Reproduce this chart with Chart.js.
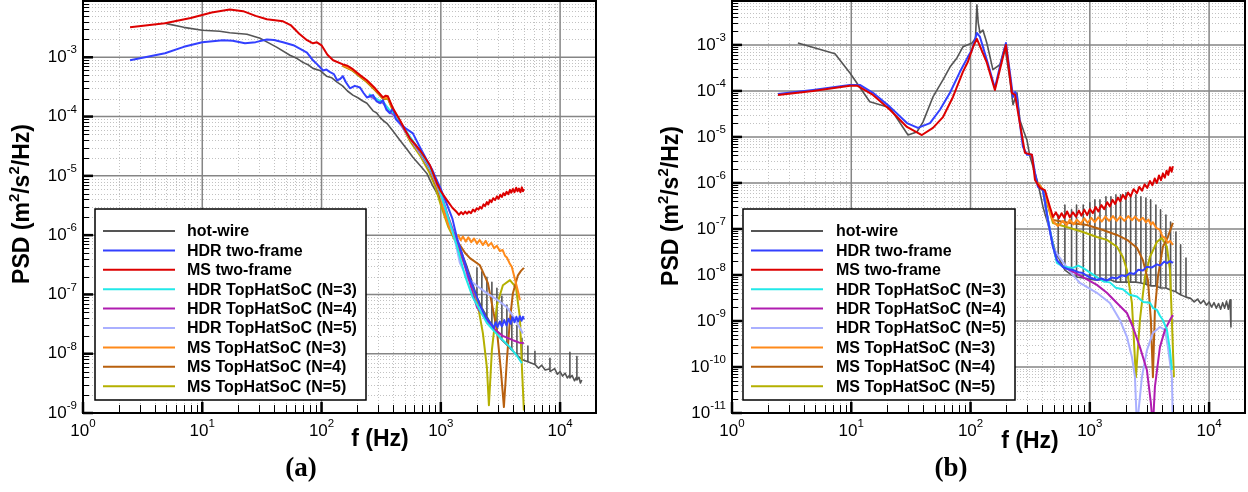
<!DOCTYPE html>
<html>
<head>
<meta charset="utf-8">
<script src="https://cdn.jsdelivr.net/npm/chart.js@4.4.1/dist/chart.umd.min.js"></script>
<style>
  html, body { margin: 0; padding: 0; background: #fff; }
  #wrap { position: relative; width: 1248px; height: 492px; }
  canvas { position: absolute; top: 0; }
  #psdA { left: 0; }
  #psdB { left: 624px; }
</style>
</head>
<body>
<div id="wrap">
  <canvas id="psdA" width="624" height="492"></canvas>
  <canvas id="psdB" width="624" height="492"></canvas>
</div>
<script>
// Spectra as [f (Hz), PSD (m^2/s^2/Hz)] pairs

// ---------- panel (a) ----------
const hotWireA = [
  [5.0,3.7e-3],[7,3.2e-3],[10,2.85e-3],[14,2.75e-3],[17,2.6e-3],[23.7,2.44e-3],[30.5,2.09e-3],[36,1.75e-3],
  [42.3,1.47e-3],[54.3,1.08e-3],[62,9.6e-4],[69.8,8.2e-4],[77,7.5e-4],[84.7,6.5e-4],[97,6.0e-4],[110,4.8e-4],
  [122,4.5e-4],[135,3.8e-4],[150,3.3e-4],[165,2.7e-4],[183,2.3e-4],[200,2.1e-4],[220,1.85e-4],[240,1.68e-4],
  [270,1.25e-4],[290,1.15e-4],[309,9.7e-5],[330,8.5e-5],[353,7.7e-5],[400,5.6e-5],[454,4.0e-5],[520,2.8e-5],
  [583,2.06e-5],[670,1.5e-5],[764,1.1e-5],[850,7.0e-6],[927,5.1e-6],[1000,3.8e-6],[1100,2.3e-6],[1200,1.4e-6],
  [1350,8.5e-7],[1500,5e-7],[1650,3e-7],[1800,1.8e-7],
  [2009,9e-8],[2009,2.8e-7],[2009,9e-8],[2208,6e-8],[2208,2.4e-7],[2208,6e-8],
  [2434,4.2e-8],[2434,1.95e-7],[2434,4.2e-8],[2680,3e-8],[2680,1.6e-7],[2680,3e-8],
  [2953,2.2e-8],[2953,1.27e-7],[2953,2.2e-8],[3250,1.7e-8],[3250,9.3e-8],[3250,1.7e-8],
  [3580,1.4e-8],[3580,6.6e-8],[3580,1.4e-8],[3940,1.15e-8],[3940,4.5e-8],[3940,1.15e-8],
  [4345,9.5e-9],[4345,3.0e-8],[4345,9.5e-9],[4786,8e-9],[4786,1.82e-8],[4786,8e-9],
  [5370,7.3e-9],[5370,1.35e-8],[5370,7.3e-9],[6150,6.6e-9],[6150,1.1e-8],[6150,6.6e-9],
  [6600,5.7e-9],[7000,6.4e-9],[7500,5.3e-9],[8220,5.6e-9],[8220,8.4e-9],[8220,5.0e-9],[9000,5.6e-9],
  [9500,4.5e-9],[10000,5.0e-9],[10500,4.2e-9],[11000,4.7e-9],[11500,3.9e-9],[12080,4.4e-9],[12080,1.06e-8],
  [12080,3.9e-9],[12600,4.3e-9],[13200,3.5e-9],[13830,4.1e-9],[13830,9e-9],[13830,3.6e-9],[14400,4.0e-9],
  [14800,3.2e-9],[15200,3.6e-9]
];
const hdrTwoFrameA = [
  [2.48,8.9e-4],[4.87,1.17e-3],[7,1.5e-3],[10,1.79e-3],[14.9,1.94e-3],[18,1.9e-3],[22.8,1.72e-3],[28,1.8e-3],
  [34.8,2.0e-3],[40,1.95e-3],[47.5,1.79e-3],[58,1.6e-3],[69.8,1.31e-3],[75.5,1.2e-3],[84.7,8.9e-4],[92,7.6e-4],
  [103,6.0e-4],[110,6.2e-4],[118,5.6e-4],[127,5.2e-4],[135,4.1e-4],[143,4.3e-4],[151,4.8e-4],[160,3.8e-4],
  [173,3.0e-4],[190,3.3e-4],[210,3.1e-4],[225,2.5e-4],[240,2.1e-4],[255,2.2e-4],[270,2.3e-4],[290,1.8e-4],
  [309,1.68e-4],[327,1.88e-4],[350,1.3e-4],[374,1.14e-4],[397,1.38e-4],[420,9e-5],[454,7.7e-5],[510,6.3e-5],
  [583,5.2e-5],[670,3.0e-5],[764,1.83e-5],[850,1.25e-5],[927,8.4e-6],[1000,6e-6],[1125,3.3e-6],[1250,1.9e-6],
  [1365,9e-7],[1500,5e-7],[1700,2.2e-7],[1900,1.2e-7],[2128,6.5e-8],[2400,4e-8],[2680,3.1e-8],[2780,2.7e-8],
  [2880,3.4e-8],[2990,2.8e-8],[3126,3.5e-8],[3250,2.9e-8],[3400,3.7e-8],[3550,3.0e-8],[3700,3.9e-8],
  [3850,3.2e-8],[4000,4.1e-8],[4150,3.4e-8],[4300,4.2e-8],[4450,3.5e-8],[4600,4.3e-8],[4750,3.6e-8],
  [4880,4.2e-8],[4970,3.8e-8]
];
const msTwoFrameA = [
  [2.48,3.2e-3],[4.87,3.74e-3],[8,4.6e-3],[12,5.7e-3],[17,6.4e-3],[22,6.0e-3],[28,5.0e-3],[34.8,4.37e-3],
  [47.5,4.05e-3],[55,3.5e-3],[65,2.5e-3],[75.5,1.94e-3],[84.7,1.72e-3],[91.5,1.79e-3],[100,1.59e-3],
  [112,1.1e-3],[125,8.9e-4],[151,7.6e-4],[165,7.2e-4],[183,6.3e-4],[210,5.0e-4],[240,4.1e-4],[281,3.0e-4],
  [327,2.1e-4],[345,2.25e-4],[360,2.2e-4],[397,1.38e-4],[454,8.7e-5],[500,6e-5],[551,4.3e-5],[610,3.4e-5],
  [668,2.7e-5],[740,2.0e-5],[811,1.51e-5],[927,7.5e-6],[1000,5.5e-6],[1125,3.9e-6],[1250,2.9e-6],
  [1365,2.43e-6],[1420,2.2e-6],[1480,2.45e-6],[1540,2.25e-6],[1600,2.5e-6],[1655,2.3e-6],[1720,2.5e-6],
  [1790,2.35e-6],[1860,2.7e-6],[1930,2.5e-6],[2000,2.85e-6],[2070,2.7e-6],[2128,3.0e-6],[2200,2.8e-6],
  [2280,3.3e-6],[2350,3.1e-6],[2430,3.6e-6],[2500,3.3e-6],[2580,3.9e-6],[2660,3.6e-6],[2750,4.2e-6],
  [2850,3.9e-6],[2953,4.5e-6],[3050,4.1e-6],[3150,4.8e-6],[3250,4.4e-6],[3350,5.1e-6],[3450,4.7e-6],
  [3560,5.4e-6],[3680,4.9e-6],[3800,5.8e-6],[3900,5.2e-6],[4020,6.0e-6],[4150,5.3e-6],[4280,6.3e-6],
  [4400,5.5e-6],[4520,6.1e-6],[4650,5.3e-6],[4780,6.4e-6],[4880,5.5e-6],[4970,6.0e-6]
];
const hdrTopHat3A = [
  [250,2.4e-4],[300,1.9e-4],[330,1.75e-4],[370,1.3e-4],[400,1.15e-4],[460,7.8e-5],[550,4.6e-5],[670,2.6e-5],
  [800,1.45e-5],[930,7.5e-6],[1042,3.8e-6],[1150,2.0e-6],[1250,1.2e-6],[1365,6.5e-7],[1592,2.1e-7],
  [1850,9e-8],[2128,5.4e-8],[2434,3.3e-8],[2800,2.4e-8],[3126,1.9e-8],[3797,1.29e-8],[4300,9.5e-9],[4786,6.9e-9]
];
const hdrTopHat4A = [
  [250,2.3e-4],[300,1.85e-4],[330,1.7e-4],[370,1.25e-4],[400,1.1e-4],[460,7.5e-5],[550,4.4e-5],[670,2.5e-5],
  [800,1.4e-5],[930,7.2e-6],[1042,3.9e-6],[1150,2.1e-6],[1250,1.3e-6],[1400,7e-7],[1655,2.3e-7],[2009,6.1e-8],
  [2300,4.2e-8],[2735,2.7e-8],[3300,2.0e-8],[4020,1.69e-8],[4500,1.55e-8],[4970,1.5e-8]
];
const hdrTopHat5A = [
  [250,2.2e-4],[300,1.8e-4],[330,1.65e-4],[370,1.2e-4],[400,1.05e-4],[460,7.2e-5],[550,4.3e-5],[670,2.4e-5],
  [800,1.35e-5],[930,7e-6],[1042,3.7e-6],[1150,2.0e-6],[1300,9e-7],[1445,3.4e-7],[1655,1.9e-7],[2000,1.4e-7],
  [2434,1.05e-7],[3000,8e-8],[3580,6.1e-8],[4200,3.8e-8],[4875,2.2e-8]
];
const msTopHat3A = [
  [150,7.4e-4],[183,6.1e-4],[210,4.9e-4],[240,4.0e-4],[280,2.9e-4],[330,2.05e-4],[360,2.1e-4],[400,1.3e-4],
  [460,8.2e-5],[550,4.2e-5],[670,2.5e-5],[800,1.4e-5],[927,6.9e-6],[1000,4.5e-6],[1082,2.2e-6],[1180,1.35e-6],
  [1262,1.08e-6],[1320,8.5e-7],[1400,1.0e-6],[1470,8.2e-7],[1531,9.5e-7],[1620,7.8e-7],[1700,9.2e-7],
  [1800,7.6e-7],[1900,8.8e-7],[2009,7.2e-7],[2120,8.3e-7],[2250,6.8e-7],[2380,8.0e-7],[2500,6.6e-7],
  [2650,7.4e-7],[2800,6.0e-7],[2950,6.6e-7],[3126,5.4e-7],[3300,5.6e-7],[3450,4.5e-7],[3580,4.2e-7],
  [3760,3.4e-7],[3940,2.9e-7],[4100,2.1e-7],[4266,1.55e-7],[4450,1.1e-7],[4600,8e-8]
];
const msTopHat4A = [
  [150,7.3e-4],[183,6.0e-4],[210,4.8e-4],[240,3.9e-4],[280,2.85e-4],[330,2.0e-4],[360,2.05e-4],[400,1.25e-4],
  [460,8.0e-5],[550,4.1e-5],[670,2.4e-5],[800,1.3e-5],[927,6.5e-6],[1050,3e-6],[1192,1.47e-6],[1300,9e-7],
  [1445,6.8e-7],[1600,5e-7],[1754,4.1e-7],[2128,3.1e-7],[2483,1.55e-7],[2953,2.5e-8],[3190,5.2e-9],
  [3380,1.26e-9],[3580,7.8e-9],[3797,3.7e-8],[4020,1.05e-7],[4430,2.1e-7],[4700,2.5e-7],[4970,2.8e-7]
];
const msTopHat5A = [
  [150,7.2e-4],[183,5.9e-4],[210,4.7e-4],[240,3.8e-4],[280,2.8e-4],[330,1.95e-4],[360,2.0e-4],[400,1.2e-4],
  [460,7.6e-5],[550,3.9e-5],[670,2.2e-5],[800,1.15e-5],[900,6.5e-6],[1000,3.2e-6],[1150,1.4e-6],[1312,8.2e-7],
  [1655,2.56e-7],[2009,8e-8],[2254,2.2e-8],[2434,5.9e-9],[2530,1.35e-9],[2680,1.15e-8],[2953,6.6e-8],
  [3315,1.43e-7],[3797,1.74e-7],[4266,1.32e-7],[4600,4.1e-8],[4786,5.9e-9],[4970,1.1e-9]
];

// ---------- panel (b) ----------
const hotWireB = [
  [3.57,1.1e-3],[7.3,6.4e-4],[9.75,2.46e-4],[14.3,5.8e-5],[17.4,5.0e-5],[21.1,4.3e-5],[29.9,1.1e-5],
  [35.5,1.28e-5],[39.9,2.1e-5],[48.4,7.4e-5],[58.7,1.73e-4],[67.2,3.3e-4],[76.9,5.2e-4],[86.3,9.1e-4],
  [103,1.1e-3],[110,1.4e-3],[113,7.4e-3],[116,3.0e-3],[120,1.82e-3],[127,2.1e-3],[137,1.1e-3],[154,2.9e-4],
  [176,3.7e-4],[194,9.1e-4],[214,1.73e-4],[227,5.0e-5],[245,9.1e-5],[259,2.34e-5],[280,1.3e-5],[297,8.6e-6],
  [315,3.7e-6],[347,1.65e-6],[367,1.0e-6],[405,3.0e-7],[445,1.3e-7],[491,5e-8],[530,2.5e-8],
  [543,2.46e-8],[543,2.0e-7],[543,2.46e-8],[618,1.28e-8],[618,3.3e-7],[618,1.28e-8],
  [703,1.0e-8],[703,2.6e-7],[703,1.0e-8],[774,9.0e-9],[774,3.3e-7],[774,9.0e-9],
  [881,8.6e-9],[881,3.3e-7],[881,8.6e-9],[1000,8.1e-9],[1000,3.7e-7],[1000,8.1e-9],
  [1103,7.8e-9],[1103,4.3e-7],[1103,7.8e-9],[1216,7.8e-9],[1216,4.3e-7],[1216,7.8e-9],
  [1365,7.8e-9],[1365,5.0e-7],[1365,7.8e-9],[1503,7.8e-9],[1503,5.0e-7],[1503,7.8e-9],
  [1655,7.0e-9],[1655,5.5e-7],[1655,7.0e-9],[1811,7.0e-9],[1811,5.5e-7],[1811,7.0e-9],
  [2009,7.0e-9],[2009,6.1e-7],[2009,7.0e-9],[2198,7.0e-9],[2198,5.5e-7],[2198,7.0e-9],
  [2434,7.0e-9],[2434,5.5e-7],[2434,7.0e-9],[2680,6.7e-9],[2680,5.0e-7],[2680,6.7e-9],
  [2953,6.3e-9],[2953,4.7e-7],[2953,6.3e-9],[3236,5.8e-9],[3236,4.3e-7],[3236,5.8e-9],
  [3580,5.8e-9],[3580,3.3e-7],[3580,5.8e-9],[3917,5.2e-9],[3917,2.6e-7],[3917,5.2e-9],
  [4345,5.2e-9],[4345,2.0e-7],[4345,5.2e-9],[4753,4.7e-9],[4753,1.42e-7],[4753,4.7e-9],
  [5270,4.3e-9],[5270,8.6e-8],[5270,4.3e-9],[5768,3.7e-9],[5768,4.5e-8],[5768,3.7e-9],
  [6400,3.3e-9],[6400,2.34e-8],[6400,3.3e-9],
  [7000,3.1e-9],[7500,2.6e-9],[8000,3.0e-9],[8500,2.4e-9],[9000,2.8e-9],[9500,2.2e-9],[10000,2.6e-9],
  [10500,2.0e-9],[11000,2.5e-9],[11500,1.9e-9],[12000,2.4e-9],[12500,1.8e-9],[13000,2.5e-9],[13500,1.9e-9],
  [14000,2.7e-9],[14500,1.8e-9],[15000,2.9e-9],[15240,7.4e-10]
];
const hdrTwoFrameB = [
  [2.43,8.6e-5],[4.77,1.05e-4],[9.75,1.35e-4],[11.8,1.35e-4],[15.2,9.1e-5],[21.1,4.5e-5],[29.3,2.0e-5],
  [36.2,1.57e-5],[45.7,2.0e-5],[55.4,3.9e-5],[67.2,9.1e-5],[81.5,2.6e-4],[95,5.5e-4],[103,7.8e-4],
  [113,1.82e-3],[120,1.49e-3],[137,4.7e-4],[160,1.16e-4],[176,3.3e-4],[198,1.1e-3],[214,2.46e-4],
  [227,7.4e-5],[236,9.5e-5],[245,7.4e-5],[259,2.0e-5],[275,6.1e-6],[297,4.1e-6],[327,4.1e-6],[347,1.65e-6],
  [367,8.2e-7],[405,7.0e-7],[445,1.57e-7],[491,4.1e-8],[530,2.1e-8],[595,1.49e-8],[650,1.35e-8],
  [722,1.28e-8],[800,1.15e-8],[875,1.1e-8],[950,9.5e-9],[1030,8.6e-9],[1146,7.8e-9],[1250,8.4e-9],
  [1390,7.6e-9],[1530,8.8e-9],[1687,8.4e-9],[1850,9.8e-9],[2000,9.4e-9],[2168,1.1e-8],[2350,1.05e-8],
  [2550,1.3e-8],[2787,1.25e-8],[3000,1.5e-8],[3300,1.45e-8],[3648,1.7e-8],[3900,1.6e-8],[4200,1.95e-8],
  [4430,1.8e-8],[4700,2.0e-8],[4970,1.83e-8]
];
const msTwoFrameB = [
  [2.43,8.2e-5],[4.77,1.0e-4],[9.75,1.3e-4],[11.2,1.3e-4],[15.2,8.2e-5],[21.1,3.9e-5],[29.3,1.65e-5],
  [39.1,1.1e-5],[48.4,1.57e-5],[58.7,2.7e-5],[71.2,7.4e-5],[86.3,2.6e-4],[95,4.3e-4],[105,9.1e-4],
  [113,1.35e-3],[137,4.1e-4],[160,1.05e-4],[198,1.0e-3],[222,9.1e-5],[236,8.2e-5],[259,2.0e-5],[286,4.5e-6],
  [327,4.1e-6],[347,1.16e-6],[382,7.8e-7],[420,7.0e-7],[463,3.0e-7],[491,1.82e-7],[520,2.3e-7],[550,1.7e-7],
  [580,2.2e-7],[610,1.75e-7],[645,2.4e-7],[680,1.8e-7],[722,2.3e-7],[765,1.85e-7],[810,2.5e-7],[850,1.95e-7],
  [900,2.6e-7],[950,2.0e-7],[1000,2.7e-7],[1060,2.2e-7],[1120,3.0e-7],[1180,2.4e-7],[1250,3.3e-7],
  [1320,2.7e-7],[1400,3.8e-7],[1473,3.1e-7],[1550,4.3e-7],[1630,3.5e-7],[1720,4.8e-7],[1800,4.0e-7],
  [1893,5.5e-7],[1990,4.5e-7],[2090,6.2e-7],[2200,5.1e-7],[2330,7.3e-7],[2483,6.0e-7],[2600,8.2e-7],
  [2740,6.8e-7],[2880,9.3e-7],[3030,7.8e-7],[3190,1.1e-6],[3350,8.9e-7],[3500,1.25e-6],[3650,1.0e-6],
  [3800,1.45e-6],[3950,1.15e-6],[4100,1.6e-6],[4250,1.3e-6],[4400,1.85e-6],[4550,1.5e-6],[4700,2.2e-6],
  [4850,1.75e-6],[4970,2.3e-6]
];
const hdrTopHat3B = [
  [405,7e-7],[445,1.6e-7],[491,4.5e-8],[530,1.82e-8],[600,1.5e-8],[722,1.42e-8],[800,1.6e-8],[875,1.42e-8],
  [1146,9.0e-9],[1300,7.2e-9],[1473,6.9e-9],[1650,5.3e-9],[1893,4.9e-9],[2150,3.7e-9],[2483,3.4e-9],
  [2800,2.6e-9],[3190,2.5e-9],[3400,1.9e-9],[3648,1.75e-9],[3870,1.3e-9],[4100,1.05e-9],[4430,6.4e-10],
  [4700,2.3e-10],[4875,8.6e-11]
];
const hdrTopHat4B = [
  [405,7e-7],[445,1.6e-7],[491,4.3e-8],[530,2e-8],[600,1.5e-8],[681,1.28e-8],[875,9.0e-9],[1146,6.1e-9],
  [1390,4.1e-9],[1687,2.46e-9],[2047,1.49e-9],[2297,7.4e-10],[2630,2.7e-10],[3010,8.6e-11],[3250,1.65e-11],
  [3380,5e-12],[3513,3.7e-11],[3870,2.7e-10],[4266,6.4e-10],[4700,1.05e-9],[4970,1.35e-9]
];
const hdrTopHat5B = [
  [405,7e-7],[445,1.5e-7],[491,4e-8],[561,2.34e-8],[700,1.1e-8],[826,6.7e-9],[1146,4.1e-9],[1473,2.46e-9],
  [1787,1.05e-9],[2047,4.5e-10],[2254,1.65e-10],[2390,6.1e-11],[2483,5e-12],[2735,6.1e-11],[3010,2.3e-10],
  [3380,5.5e-10],[3870,7.4e-10],[4266,6.4e-10],[4515,2.7e-10],[4875,6.1e-11],[4970,5e-12]
];
const msTopHat3B = [
  [367,1.0e-6],[405,7.0e-7],[440,4e-7],[470,2e-7],[500,1.4e-7],[540,1.15e-7],[595,1.5e-7],[640,1.2e-7],
  [680,1.6e-7],[730,1.25e-7],[780,1.6e-7],[840,1.3e-7],[900,1.7e-7],[960,1.35e-7],[1030,1.75e-7],[1100,1.4e-7],
  [1180,1.8e-7],[1260,1.45e-7],[1350,1.85e-7],[1450,1.5e-7],[1563,1.9e-7],[1680,1.5e-7],[1800,1.85e-7],
  [1950,1.5e-7],[2100,1.9e-7],[2250,1.55e-7],[2400,1.85e-7],[2580,1.5e-7],[2787,1.75e-7],[2950,1.4e-7],
  [3100,1.6e-7],[3250,1.25e-7],[3380,1.4e-7],[3600,1.05e-7],[3870,9.5e-8],[4050,7.0e-8],[4266,6.4e-8],
  [4500,5.0e-8],[4700,5.5e-8],[4970,4.5e-8]
];
const msTopHat4B = [
  [367,1.0e-6],[405,7.0e-7],[440,3.8e-7],[491,1.57e-7],[681,1.35e-7],[946,1.22e-7],[1288,9.5e-8],
  [1687,7.4e-8],[2047,5.8e-8],[2483,3.9e-8],[2787,2.1e-8],[3070,7.8e-9],[3250,1.05e-9],[3380,6e-11],
  [3513,1.73e-9],[3720,9.0e-9],[4100,4.1e-8],[4515,6.7e-8],[4970,1.35e-7]
];
const msTopHat5B = [
  [367,1.0e-6],[405,7e-7],[440,3.5e-7],[491,1.35e-7],[681,1.05e-7],[875,8.6e-8],[1146,6.7e-8],[1390,5.8e-8],
  [1687,4.1e-8],[1893,2.46e-8],[2047,1.28e-8],[2254,2.46e-9],[2434,6e-11],[2630,1.05e-9],[2897,9.0e-9],
  [3190,2.46e-8],[3648,5.2e-8],[4020,6.4e-8],[4430,4.1e-8],[4700,1.28e-8],[4875,1.05e-9],[5070,6e-11]
];

const seriesNames = [
  'hot-wire', 'HDR two-frame', 'MS two-frame',
  'HDR TopHatSoC (N=3)', 'HDR TopHatSoC (N=4)', 'HDR TopHatSoC (N=5)',
  'MS TopHatSoC (N=3)', 'MS TopHatSoC (N=4)', 'MS TopHatSoC (N=5)'
];
const xTickExps = [0, 1, 2, 3, 4];
const yTickExpsA = [-9, -8, -7, -6, -5, -4, -3];
const yTickExpsB = [-11, -10, -9, -8, -7, -6, -5, -4, -3];
const xRange = [1, 2e4];
const yRangeA = [1e-9, 8.9e-3];
const yRangeB = [1e-11, 9.0e-3];

// line styling per series (same order as seriesNames)
const lineColors = ['#555555', '#3340ff', '#dd0000', '#22e8e8', '#b01cb0', '#aab0ff', '#ff8a1a', '#b8600e', '#b4b000'];
const lineWidths = [1.6, 2, 2, 2, 2, 2, 2, 2, 2];
const drawOrder = [9, 2, 1, 3, 4, 5, 6, 7, 8];

const FONT = '"Liberation Sans", Arial, Helvetica, sans-serif';

function drawPower(ctx, exp, x, y, align) {
  const sup = String(exp);
  ctx.font = '17px ' + FONT;
  const wb = ctx.measureText('10').width;
  ctx.font = '11.5px ' + FONT;
  const ws = ctx.measureText(sup).width;
  const left = align === 'right' ? x - wb - ws : x - (wb + ws) / 2;
  ctx.textAlign = 'left';
  ctx.textBaseline = 'middle';
  ctx.font = '17px ' + FONT;
  ctx.fillText('10', left, y);
  ctx.font = '11.5px ' + FONT;
  ctx.fillText(sup, left + wb, y - 7);
}

// text with superscript pieces, centred on (cx, cy)
function drawRich(ctx, parts, cx, cy) {
  const big = 'bold 23px ' + FONT, small = 'bold 15px ' + FONT;
  let total = 0;
  parts.forEach(([t, sup]) => { ctx.font = sup ? small : big; total += ctx.measureText(t).width; });
  let x = cx - total / 2;
  ctx.textAlign = 'left';
  ctx.textBaseline = 'middle';
  parts.forEach(([t, sup]) => {
    ctx.font = sup ? small : big;
    ctx.fillText(t, x, sup ? cy - 8 : cy);
    x += ctx.measureText(t).width;
  });
}

function decadeValues(min, max, withMinor) {
  const out = [];
  for (let k = Math.floor(Math.log10(min)); k <= Math.ceil(Math.log10(max)); k++) {
    const ms = withMinor ? [2, 3, 4, 5, 6, 7, 8, 9] : [1];
    ms.forEach(m => {
      const v = m * Math.pow(10, k);
      if (v >= min * 0.999 && v <= max * 1.001) out.push(v);
    });
  }
  return out;
}

function makeAxesPlugin(cfg) {
  return {
    id: 'logFrame',
    beforeDatasetsDraw(chart) {
      const { ctx, chartArea: a, scales: { x, y } } = chart;
      ctx.save();
      // dotted minor grid
      ctx.strokeStyle = '#c2c2c2';
      ctx.lineWidth = 1;
      ctx.setLineDash([1, 2]);
      decadeValues(x.min, x.max, true).forEach(v => {
        const px = Math.round(x.getPixelForValue(v)) + 0.5;
        ctx.beginPath(); ctx.moveTo(px, a.top); ctx.lineTo(px, a.bottom); ctx.stroke();
      });
      decadeValues(y.min, y.max, true).forEach(v => {
        const py = Math.round(y.getPixelForValue(v)) + 0.5;
        ctx.beginPath(); ctx.moveTo(a.left, py); ctx.lineTo(a.right, py); ctx.stroke();
      });
      // solid decade grid
      ctx.setLineDash([]);
      ctx.strokeStyle = '#858585';
      ctx.lineWidth = 1.5;
      decadeValues(x.min, x.max, false).forEach(v => {
        const px = x.getPixelForValue(v);
        ctx.beginPath(); ctx.moveTo(px, a.top); ctx.lineTo(px, a.bottom); ctx.stroke();
      });
      decadeValues(y.min, y.max, false).forEach(v => {
        const py = y.getPixelForValue(v);
        ctx.beginPath(); ctx.moveTo(a.left, py); ctx.lineTo(a.right, py); ctx.stroke();
      });
      ctx.restore();
    },
    afterDraw(chart) {
      const { ctx, chartArea: a, scales: { x, y } } = chart;
      ctx.save();
      // frame
      ctx.strokeStyle = '#000';
      ctx.lineWidth = 2;
      ctx.strokeRect(a.left, a.top, a.right - a.left, a.bottom - a.top);
      // inward ticks on bottom and left axes
      ctx.lineWidth = 1;
      decadeValues(x.min, x.max, true).forEach(v => {
        const px = Math.round(x.getPixelForValue(v)) + 0.5;
        ctx.beginPath(); ctx.moveTo(px, a.bottom); ctx.lineTo(px, a.bottom - 8); ctx.stroke();
      });
      decadeValues(y.min, y.max, true).forEach(v => {
        const py = Math.round(y.getPixelForValue(v)) + 0.5;
        ctx.beginPath(); ctx.moveTo(a.left, py); ctx.lineTo(a.left + 6, py); ctx.stroke();
      });
      ctx.lineWidth = 2.5;
      decadeValues(x.min, x.max, false).forEach(v => {
        const px = x.getPixelForValue(v);
        ctx.beginPath(); ctx.moveTo(px, a.bottom); ctx.lineTo(px, a.bottom - 11); ctx.stroke();
      });
      decadeValues(y.min, y.max, false).forEach(v => {
        const py = y.getPixelForValue(v);
        ctx.beginPath(); ctx.moveTo(a.left, py); ctx.lineTo(a.left + 10, py); ctx.stroke();
      });

      // tick labels
      ctx.fillStyle = '#000';
      cfg.xExps.forEach(e => drawPower(ctx, e, x.getPixelForValue(Math.pow(10, e)), a.bottom + 18, 'center'));
      cfg.yExps.forEach(e => drawPower(ctx, e, a.left - 6, y.getPixelForValue(Math.pow(10, e)), 'right'));

      // axis titles
      drawRich(ctx, [['f (Hz)', false]], cfg.xTitle[0], cfg.xTitle[1]);
      ctx.save();
      ctx.translate(cfg.yTitle[0], cfg.yTitle[1]);
      ctx.rotate(-Math.PI / 2);
      drawRich(ctx, [['PSD (m', false], ['2', true], ['/s', false], ['2', true], ['/Hz)', false]], 0, 0);
      ctx.restore();

      // panel tag
      ctx.font = 'bold 27px "Liberation Serif", "Times New Roman", serif';
      ctx.textAlign = 'center';
      ctx.textBaseline = 'middle';
      ctx.fillText(cfg.tag, cfg.tagPos[0], cfg.tagPos[1]);

      // legend box
      const L = cfg.legend;
      ctx.fillStyle = '#fff';
      ctx.fillRect(L.x, L.y, L.w, L.h);
      ctx.strokeStyle = '#000';
      ctx.lineWidth = 1.5;
      ctx.strokeRect(L.x, L.y, L.w, L.h);
      ctx.font = 'bold 16px ' + FONT;
      ctx.textAlign = 'left';
      ctx.textBaseline = 'middle';
      chart.data.datasets.forEach((ds, i) => {
        const ry = L.row0 + i * L.step;
        ctx.strokeStyle = ds.borderColor;
        ctx.lineWidth = 2;
        ctx.beginPath(); ctx.moveTo(L.line0, ry); ctx.lineTo(L.line1, ry); ctx.stroke();
        ctx.fillStyle = '#000';
        ctx.fillText(ds.label, L.text, ry + 1);
      });
      ctx.restore();
    }
  };
}

function buildPanel(canvasId, seriesData, yRange, padding, cfg) {
  const datasets = seriesData.map((d, i) => ({
    label: seriesNames[i],
    data: d,
    borderColor: lineColors[i],
    borderWidth: lineWidths[i],
    pointRadius: 0,
    tension: 0,
    fill: false,
    order: drawOrder[i],
    borderJoinStyle: 'round'
  }));
  return new Chart(document.getElementById(canvasId), {
    type: 'line',
    data: { datasets },
    options: {
      responsive: false,
      animation: false,
      devicePixelRatio: 1,
      layout: { padding },
      plugins: { legend: { display: false }, tooltip: { enabled: false } },
      scales: {
        x: { type: 'logarithmic', min: xRange[0], max: xRange[1], display: false },
        y: { type: 'logarithmic', min: yRange[0], max: yRange[1], display: false }
      }
    },
    plugins: [makeAxesPlugin(cfg)]
  });
}

buildPanel('psdA',
  [hotWireA, hdrTwoFrameA, msTwoFrameA, hdrTopHat3A, hdrTopHat4A, hdrTopHat5A, msTopHat3A, msTopHat4A, msTopHat5A],
  yRangeA, { left: 83, right: 28, top: 1, bottom: 79 },
  {
    xExps: xTickExps, yExps: yTickExpsA,
    xTitle: [380, 440], yTitle: [23, 204],
    tag: '(a)', tagPos: [301, 469],
    legend: { x: 95, y: 209, w: 271, h: 191, line0: 103, line1: 175, text: 187, row0: 231, step: 19.4 }
  });

buildPanel('psdB',
  [hotWireB, hdrTwoFrameB, msTwoFrameB, hdrTopHat3B, hdrTopHat4B, hdrTopHat5B, msTopHat3B, msTopHat4B, msTopHat5B],
  yRangeB, { left: 108, right: 3, top: 1, bottom: 79 },
  {
    xExps: xTickExps, yExps: yTickExpsB,
    xTitle: [406, 442], yTitle: [48, 206],
    tag: '(b)', tagPos: [327, 469],
    legend: { x: 119, y: 209, w: 272, h: 191, line0: 127, line1: 199, text: 212, row0: 231, step: 19.4 }
  });
</script>
</body>
</html>
